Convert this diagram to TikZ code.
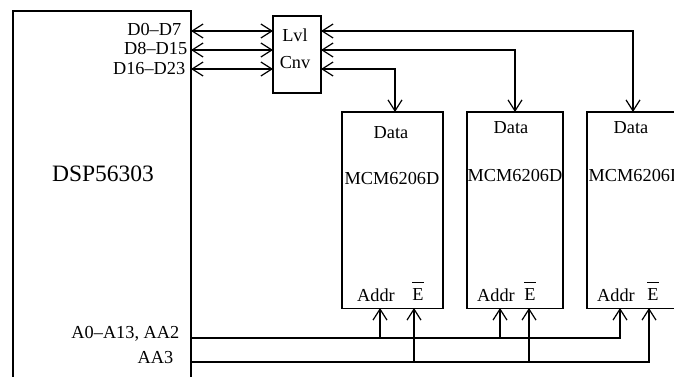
\documentclass[tikz,border=0pt]{standalone}
\usepackage{fontspec}
\setmainfont{Liberation Serif}
\usetikzlibrary{arrows.meta}

\newcommand{\barE}{$\overline{\mbox{\rule{0pt}{16.5pt}E}}$}

\begin{document}
\begin{tikzpicture}[x=1pt, y=-1pt, line width=1.5pt,
    >={Straight Barb[length=11pt,width=14pt,line width=1.2pt]},
    block/.style={draw, rectangle, inner sep=0pt, outer sep=0pt, anchor=north west},
    txt/.style={inner sep=0pt, font=\fontsize{18.3}{20}\selectfont},
    port/.style={txt, anchor=east},
    enable/.style={txt, anchor=base}]

  \useasboundingbox (0,0) rectangle (674,377);

  % blocks
  \node [block, minimum width=178pt, minimum height=400pt] (dsp) at (13,11) {};
  \node [block, minimum width=48pt, minimum height=77pt] (lvl) at (273,16) {};
  \node [block, minimum width=101pt, minimum height=196.5pt] (mem1) at (342,112) {};
  \node [block, minimum width=96pt, minimum height=196.5pt] (mem2) at (467,112) {};
  \node [block, minimum width=110pt, minimum height=196.5pt] (mem3) at (587,112) {};

  % texts
  \node [txt, font=\fontsize{23.5}{25}\selectfont] (dspName) at (103,174) {DSP56303};
  \node [txt] (lvlTop) at (295,35) {Lvl};
  \node [txt] (lvlBot) at (295,63) {Cnv};
  \node [port] (d0) at (182,30) {D0--D7};
  \node [port] (d8) at (188,49) {D8--D15};
  \node [port] (d16) at (186,69) {D16--D23};
  \node [port] (addrBus) at (180,334) {A0--A13, AA2};
  \node [port] (enBus) at (174,358) {AA3};

  \node [txt] (data1) at (391,133) {Data};
  \node [txt] (data2) at (511,128) {Data};
  \node [txt] (data3) at (631,128) {Data};
  \node [txt] (name1) at (392,179) {MCM6206D};
  \node [txt] (name2) at (515,176) {MCM6206D};
  \node [txt] (name3) at (636,176) {MCM6206D};
  \node [txt] (addr1) at (376,295) {Addr};
  \node [txt] (addr2) at (496,295) {Addr};
  \node [txt] (addr3) at (616,295) {Addr};
  \node [enable] (en1) at (418,300) {\barE};
  \node [enable] (en2) at (530,300) {\barE};
  \node [enable] (en3) at (653,300) {\barE};

  % where the wires meet the blocks
  \coordinate (bus0) at (191,31);
  \coordinate (bus1) at (191,50);
  \coordinate (bus2) at (191,69);
  \coordinate (busA) at (191,338);
  \coordinate (busE) at (191,362);
  \coordinate (pinD1) at (395,112);
  \coordinate (pinD2) at (515,112);
  \coordinate (pinD3) at (633,112);
  \coordinate (pinA1) at (380,308);
  \coordinate (pinA2) at (500,308);
  \coordinate (pinA3) at (620,308);
  \coordinate (pinE1) at (414,308);
  \coordinate (pinE2) at (529,308);
  \coordinate (pinE3) at (649,308);

  \draw [<->] (bus0) -- (lvl.west |- bus0);
  \draw [<->] (bus1) -- (lvl.west |- bus1);
  \draw [<->] (bus2) -- (lvl.west |- bus2);
  \draw [<->] (lvl.east |- bus0) -| (pinD3);
  \draw [<->] (lvl.east |- bus1) -| (pinD2);
  \draw [<->] (lvl.east |- bus2) -| (pinD1);

  \draw [->] (busA) -| (pinA3);
  \draw [->] (busE) -| (pinE3);
  \path
    (pinA1 |- busA) edge [->] (pinA1)
    (pinA2 |- busA) edge [->] (pinA2)
    (pinE1 |- busE) edge [->] (pinE1)
    (pinE2 |- busE) edge [->] (pinE2)
  ;

\end{tikzpicture}
\end{document}
